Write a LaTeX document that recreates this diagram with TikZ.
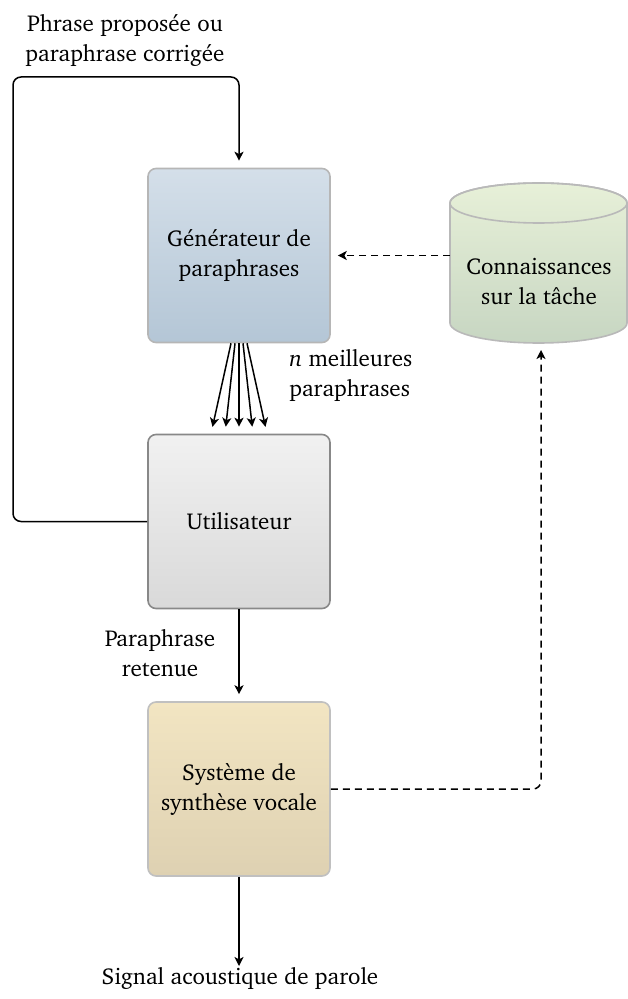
\documentclass[tikz,border=0pt]{standalone}
\usepackage[T1]{fontenc}
\usepackage{charter}
\usetikzlibrary{arrows.meta,calc}
\definecolor{genT}{RGB}{212,223,233}
\definecolor{genB}{RGB}{180,198,214}
\definecolor{genD}{RGB}{182,182,182}
\definecolor{usrT}{RGB}{241,241,241}
\definecolor{usrB}{RGB}{217,217,217}
\definecolor{usrD}{RGB}{136,136,136}
\definecolor{synT}{RGB}{242,229,194}
\definecolor{synB}{RGB}{222,209,178}
\definecolor{synD}{RGB}{192,192,192}
\definecolor{cylT}{RGB}{231,240,216}
\definecolor{cylB}{RGB}{199,214,194}
\definecolor{cylD}{RGB}{185,185,185}
\begin{document}
\begin{tikzpicture}[x=0.5pt,y=-0.5pt,font=\fontsize{11.5}{15}\selectfont,
  box/.style={rounded corners=4pt, minimum width=91pt, minimum height=87pt, line width=0.8pt, align=center, inner sep=0pt},
  arr/.style={-{Stealth[length=4.5pt,width=4.5pt,inset=1.2pt]}, line width=0.75pt, shorten >=3.5pt},
  dashln/.style={dash pattern=on 3.5pt off 2.5pt},
  lbl/.style={align=center, inner sep=0pt}]
\useasboundingbox (0,0) rectangle (627,999);
% boxes
\node[box, draw=genD, top color=genT, bottom color=genB] (gen) at (239,255.5) {Générateur de\\paraphrases};
\node[box, draw=usrD, top color=usrT, bottom color=usrB] (usr) at (239,521.5) {Utilisateur};
\node[box, draw=synD, top color=synT, bottom color=synB] (syn) at (239,789) {Système de\\synthèse vocale};
% cylinder
\path[draw=cylD, line width=0.8pt, top color=cylT, bottom color=cylB]
  (450,203) -- (450,323) arc (180:0:88.5 and 20) -- (627,203) arc (0:-180:88.5 and 20) -- cycle;
\draw[cylD, line width=0.8pt] (538.5,203) ellipse (88.5 and 20);
\node[lbl] (cyl) at (539,281) {Connaissances\\sur la tâche};
\coordinate (cylL) at (450,255.5);
\coordinate (cylS) at (541,343);
% labels
\node[lbl] (top) at (125,40) {Phrase proposée ou\\paraphrase corrigée};
\node[lbl, align=left, anchor=west] (best) at (289,375) {\textit{n} meilleures\\paraphrases};
\node[lbl] (ret) at (160,653) {Paraphrase\\retenue};
\node[lbl] (sig) at (240,978) {Signal acoustique de parole};
\coordinate (loopL) at (13,77);
\coordinate (sigE) at (239,966);
% connectors
\draw[arr, rounded corners=4pt] (usr.west) -| (loopL) -| (gen.north);
\foreach \a/\b in {-4/-14,-2/-7,0/0,2/7,4/14}
  \draw[arr] ([xshift=\a pt]gen.south) -- ([xshift=\b pt]usr.north);
\draw[arr] (usr.south) -- (syn.north);
\draw[arr, shorten >=0pt] (syn.south) -- (sigE);
\draw[arr, dashln] (cylL) -- (gen.east);
\draw[arr, dashln, rounded corners=4pt] (syn.east) -| (cylS);
\end{tikzpicture}
\end{document}
